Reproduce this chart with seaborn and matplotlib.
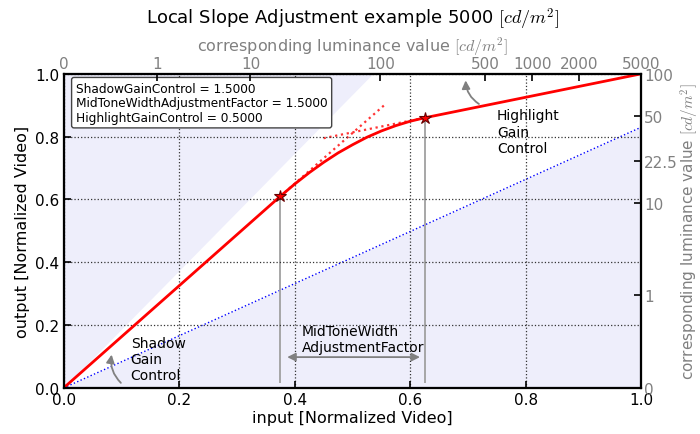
import numpy as np
import matplotlib
matplotlib.use("Agg")
import matplotlib.pyplot as plt
import seaborn as sns

# ------------------------------------------------------
# data
# ------------------------------------------------------
# red tone curve: linear shadow part, smooth mid-tone, linear highlight part
curve_x = [0.0, 0.375, 0.400, 0.425, 0.450, 0.475, 0.500, 0.525, 0.550, 0.575, 0.600, 0.625, 1.0]
curve_y = [0.0, 0.610, 0.649, 0.685, 0.718, 0.748, 0.774, 0.798, 0.818, 0.835, 0.849, 0.860, 1.0]

# knee points (stars)
knee_x = [0.375, 0.625]
knee_y = [0.610, 0.860]

# dotted tangent extensions
shadow_tan_x = [0.375, 0.555]
shadow_tan_y = [0.610, 0.900]
high_tan_x = [0.450, 0.625]
high_tan_y = [0.795, 0.860]

# blue reference line and upper limit line
ref_x = [0.0, 1.0]
ref_y = [0.0, 0.83]
limit_x = [0.0, 0.535]
limit_y = [0.0, 1.0]

# secondary axes tick labels (luminance in cd/m^2)
top_lum = [0, 1, 10, 100, 500, 1000, 2000, 5000]
right_lum = [0, 1, 10, 22.5, 50, 100]

params_text = ("ShadowGainControl = 1.5000\n"
               "MidToneWidthAdjustmentFactor = 1.5000\n"
               "HighlightGainControl = 0.5000")


def pq(L):
    # SMPTE ST 2084 inverse EOTF, used to place the luminance ticks
    m1 = 2610 / 16384
    m2 = 2523 / 4096 * 128
    c1 = 3424 / 4096
    c2 = 2413 / 4096 * 32
    c3 = 2392 / 4096 * 32
    y = (np.asarray(L, dtype=float) / 10000.0) ** m1
    return ((c1 + c2 * y) / (1 + c3 * y)) ** m2


sns.set_theme(style="white", rc={
    "axes.edgecolor": "black",
    "axes.linewidth": 1.5,
    "axes.labelcolor": "black",
    "text.color": "black",
    "xtick.direction": "in",
    "ytick.direction": "in",
    "xtick.major.size": 5,
    "ytick.major.size": 5,
    "xtick.major.width": 1.2,
    "ytick.major.width": 1.2,
    "xtick.color": "black",
    "ytick.color": "black",
    "font.size": 11,
    "xtick.labelsize": 11,
    "ytick.labelsize": 11,
    "axes.labelsize": 11.5,
    "mathtext.fontset": "cm",
})
plt.rcParams["font.family"] = ["DejaVu Sans"]

GRAY = "#808080"
FILL = "#eeeefb"

fig = plt.figure(figsize=(7, 4.35), dpi=100)
ax = fig.add_axes([0.091, 0.106, 0.825, 0.722])

# shaded regions
ax.fill_between(limit_x, limit_y, 1.0, color=FILL, lw=0, zorder=0)
ax.fill_between(ref_x, 0.0, ref_y, color=FILL, lw=0, zorder=0)

ax.grid(True, ls=":", color="#333333", lw=0.9)
ax.set_axisbelow(False)

sns.lineplot(x=ref_x, y=ref_y, color="blue", lw=1.0, ls=":", ax=ax,
             estimator=None, sort=False, zorder=2)
sns.lineplot(x=shadow_tan_x, y=shadow_tan_y, color="red", lw=1.6, ls=":", ax=ax,
             estimator=None, sort=False, zorder=2, alpha=0.8)
sns.lineplot(x=high_tan_x, y=high_tan_y, color="red", lw=1.6, ls=":", ax=ax,
             estimator=None, sort=False, zorder=2, alpha=0.8)
sns.lineplot(x=curve_x, y=curve_y, color="red", lw=2.0, ax=ax,
             estimator=None, sort=False, zorder=3)

# vertical markers at the knees
ax.vlines(knee_x, 0.015, knee_y, color="#a0a0a0", lw=1.3, zorder=2)
ax.plot(knee_x, knee_y, ls="none", marker="*", ms=9, mfc="red", mec="#660000",
        mew=0.8, zorder=4)

# annotations
arrow_kw = dict(arrowstyle="-|>", color=GRAY, lw=1.3, mutation_scale=12,
                shrinkA=0, shrinkB=0)
ax.annotate("", xy=(0.083, 0.106), xytext=(0.099, 0.016),
            arrowprops=dict(connectionstyle="arc3,rad=-0.25", **arrow_kw))
ax.text(0.116, 0.165, "Shadow\nGain\nControl", fontsize=10, va="top", ha="left")

ax.annotate("", xy=(0.696, 0.979), xytext=(0.719, 0.904),
            arrowprops=dict(connectionstyle="arc3,rad=-0.25", **arrow_kw))
ax.text(0.75, 0.89, "Highlight\nGain\nControl", fontsize=10, va="top", ha="left")

ax.annotate("", xy=(0.387, 0.098), xytext=(0.617, 0.098),
            arrowprops=dict(arrowstyle="<|-|>", color=GRAY, lw=1.3,
                            mutation_scale=12, shrinkA=0, shrinkB=0))
ax.text(0.412, 0.108, "MidToneWidth\nAdjustmentFactor", fontsize=10,
        va="bottom", ha="left")

ax.text(0.021, 0.975, params_text, transform=ax.transAxes, fontsize=8.7,
        va="top", ha="left", linespacing=1.15,
        bbox=dict(boxstyle="round,pad=0.35,rounding_size=0.2", fc="white",
                  ec="#444444", lw=1.0), zorder=5)

ax.set_xlim(0, 1)
ax.set_ylim(0, 1)
ax.set_xticks(np.arange(0, 1.01, 0.2))
ax.set_yticks(np.arange(0, 1.01, 0.2))
ax.set_xticklabels([f"{v:.1f}" for v in np.arange(0, 1.01, 0.2)])
ax.set_yticklabels([f"{v:.1f}" for v in np.arange(0, 1.01, 0.2)])
ax.tick_params(top=False, right=False, pad=3)
ax.set_xlabel("input [Normalized Video]", labelpad=2)
ax.set_ylabel("output [Normalized Video]", labelpad=4)

# top luminance axis
ax_top = ax.twiny()
ax_top.set_xlim(0, 1)
ax_top.set_xticks(pq(top_lum) / pq(5000))
ax_top.set_xticklabels([str(v) for v in top_lum])
ax_top.tick_params(axis="x", direction="in", labelcolor=GRAY, color="black", pad=2)
ax_top.set_xlabel(r"corresponding luminance value $[cd/m^2]$", color=GRAY, labelpad=4)
ax_top.grid(False)

# right luminance axis
ax_right = ax.twinx()
ax_right.set_ylim(0, 1)
ax_right.set_yticks(pq(right_lum) / pq(100))
ax_right.set_yticklabels([f"{v:g}" for v in right_lum])
ax_right.tick_params(axis="y", direction="in", labelcolor=GRAY, color="black", pad=2)
ax_right.set_ylabel(r"corresponding luminance value $[cd/m^2]$", color=GRAY,
                    labelpad=1, fontsize=11)
ax_right.grid(False)

fig.text(0.5035, 0.955, r"Local Slope Adjustment example 5000 $[cd/m^2]$",
         ha="center", va="center", fontsize=13)

fig.savefig("out.png", dpi=100)
